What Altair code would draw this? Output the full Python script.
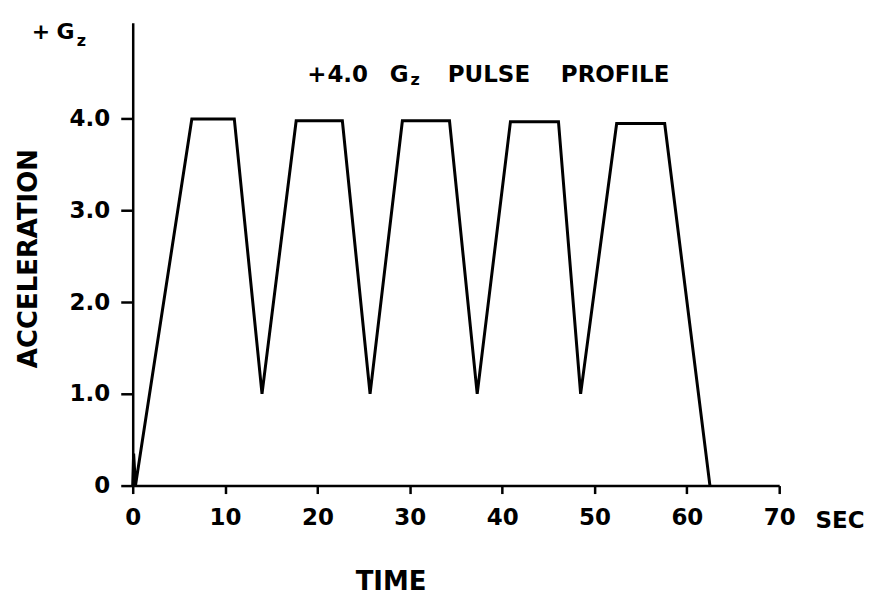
import altair as alt
import pandas as pd

# Pulse profile (time in s, acceleration in +Gz)
time_s = [0, 0.1, 0.3, 6.4, 11.0, 14.0, 17.7, 22.7, 25.7, 29.2, 34.3, 37.3,
          40.9, 46.1, 48.5, 52.4, 57.6, 62.5]
accel_g = [0, 0.35, 0, 4.0, 4.0, 1.0, 3.98, 3.98, 1.0, 3.98, 3.98, 1.0,
           3.97, 3.97, 1.0, 3.95, 3.95, 0]

x_ticks = [0, 10, 20, 30, 40, 50, 60, 70]
y_ticks = [0, 1, 2, 3, 4]

# Text annotations placed in data coordinates
ann_text = ["+", "G", "z", "+", "4.0", "G", "z", "PULSE", "PROFILE", "SEC"]
ann_t = [-9.94, -7.29, -5.56, 19.93, 23.28, 28.84, 30.57, 38.57, 52.23, 76.59]
ann_v = [4.872, 4.872, 4.796, 4.403, 4.403, 4.403, 4.37, 4.403, 4.403, -0.458]
ann_fs = [22, 22, 16, 23, 23, 23, 16, 23, 23, 23]

FONT = "DejaVu Sans"

df = pd.DataFrame({"t": time_s, "g": accel_g})
ann = pd.DataFrame({"t": ann_t, "v": ann_v, "txt": ann_text, "fs": ann_fs})

xscale = alt.Scale(domain=[0, 70], nice=False, zero=False)
yscale = alt.Scale(domain=[0, 5.05], nice=False, zero=False)

line = alt.Chart(df).mark_line(color="black", strokeWidth=3).encode(
    x=alt.X("t:Q", scale=xscale, axis=alt.Axis(
        values=x_ticks, format="d", grid=False, labelFlush=False,
        labelFont=FONT, labelFontSize=23, labelFontWeight="bold", labelColor="black",
        labelPadding=13, tickSize=8, tickWidth=2.5, tickColor="black",
        domainWidth=2.5, domainColor="black",
        title="TIME", titleFont=FONT, titleFontSize=26, titleFontWeight="bold",
        titleColor="black", titleX=258.5, titleY=104, titleAlign="center",
        titleBaseline="alphabetic")),
    y=alt.Y("g:Q", scale=yscale, axis=alt.Axis(
        values=y_ticks, grid=False, labelFlush=False,
        labelExpr="datum.value == 0 ? '0' : format(datum.value, '.1f')",
        labelFont=FONT, labelFontSize=23, labelFontWeight="bold", labelColor="black",
        labelPadding=11, tickSize=12, tickWidth=2.5, tickColor="black",
        domainWidth=2.5, domainColor="black",
        title="ACCELERATION", titleFont=FONT, titleFontSize=26, titleFontWeight="bold",
        titleColor="black", titleAngle=270, titleX=-96, titleY=236,
        titleAlign="center", titleBaseline="alphabetic")),
)

text = alt.Chart(ann).mark_text(
    font=FONT, fontWeight="bold", color="black", align="center",
    baseline="alphabetic").encode(
    x=alt.X("t:Q", scale=xscale),
    y=alt.Y("v:Q", scale=yscale),
    text="txt:N",
    size=alt.Size("fs:Q", scale=None, legend=None),
)

chart = (line + text).properties(
    width=648, height=464,
    padding={"left": 125, "top": 14, "right": 88, "bottom": 114},
    autosize=alt.AutoSizeParams(type="none"),
    background="white",
).configure_view(stroke=None)

chart.save("out.html", embed_options={"renderer": "svg", "actions": False})
